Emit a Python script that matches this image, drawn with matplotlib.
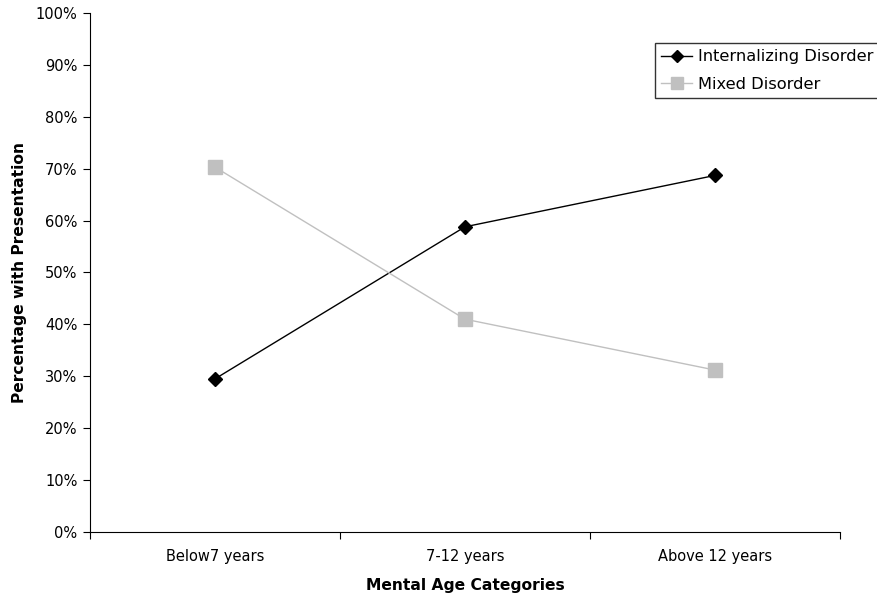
import matplotlib
matplotlib.use('Agg')
import matplotlib.pyplot as plt
from matplotlib.ticker import FixedLocator, NullFormatter, FixedFormatter

plt.rcParams['font.family'] = ['DejaVu Sans']

categories = ['Below7 years', '7-12 years', 'Above 12 years']
internalizing = [29.5, 58.8, 68.7]
mixed = [70.3, 41.0, 31.2]
yticks = list(range(0, 101, 10))

fig = plt.figure(figsize=(8.78, 5.98), dpi=100)
ax = fig.add_axes([0.1025, 0.1104, 0.8542, 0.8679])

pos = [i + 0.5 for i in range(len(categories))]
ax.plot(pos, internalizing, color='black', marker='D', markersize=7, linewidth=1,
        label='Internalizing Disorder')
ax.plot(pos, mixed, color='#c0c0c0', marker='s', markersize=9.5, linewidth=1,
        label='Mixed Disorder')

ax.set_xlim(0, 3)
ax.set_ylim(0, 100)
ax.set_yticks(yticks)
ax.set_yticklabels([f'{v}%' for v in yticks])
ax.xaxis.set_major_locator(FixedLocator([0, 1, 2, 3]))
ax.xaxis.set_major_formatter(NullFormatter())
ax.xaxis.set_minor_locator(FixedLocator(pos))
ax.xaxis.set_minor_formatter(FixedFormatter(categories))
ax.tick_params(axis='x', which='minor', length=0, pad=12.5, labelsize=10.5)
ax.tick_params(axis='x', which='major', length=5, direction='out')
ax.tick_params(axis='y', length=5, direction='out', labelsize=10.5, pad=4)

for s in ['top', 'right']:
    ax.spines[s].set_visible(False)

ax.set_xlabel('Mental Age Categories', fontweight='bold', fontsize=11.2, labelpad=10)
ax.set_ylabel('Percentage with Presentation', fontweight='bold', fontsize=11.2, labelpad=6)

leg = ax.legend(loc='upper left', bbox_to_anchor=(0.7533, 0.9422), fontsize=11.7,
                frameon=True, fancybox=False, borderpad=0.4, handlelength=1.9,
                handletextpad=0.37, labelspacing=0.75, borderaxespad=0,
                markerscale=0.85)
leg.get_frame().set_edgecolor('black')
leg.get_frame().set_linewidth(1)

plt.savefig('out.png', dpi=100)
